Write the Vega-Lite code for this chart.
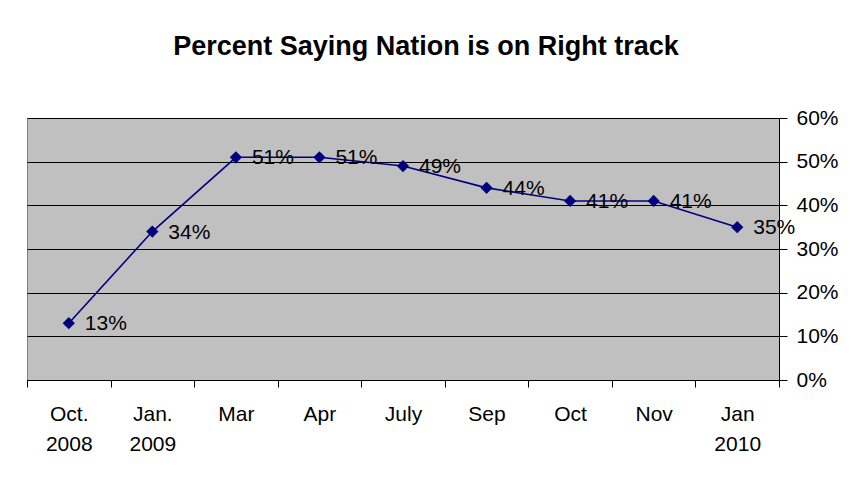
{
  "$schema": "https://vega.github.io/schema/vega-lite/v6.json",
  "width": 752,
  "height": 262,
  "autosize": {"type": "none"},
  "padding": {"left": 27, "top": 118, "right": 72, "bottom": 99},
  "background": "#ffffff",
  "config": {
    "font": "Liberation Sans",
    "view": {"fill": "#C0C0C0", "stroke": "#808080", "strokeWidth": 1}
  },
  "title": {
    "text": "Percent Saying Nation is on Right track",
    "font": "Liberation Sans",
    "fontSize": 27,
    "fontWeight": "bold",
    "color": "#000000",
    "frame": "group",
    "anchor": "middle",
    "baseline": "alphabetic",
    "offset": 25,
    "dx": 23
  },
  "data": {
    "values": [
      {"period": "Oct.|2008", "pct": 0.13},
      {"period": "Jan.|2009", "pct": 0.34},
      {"period": "Mar", "pct": 0.51},
      {"period": "Apr", "pct": 0.51},
      {"period": "July", "pct": 0.49},
      {"period": "Sep", "pct": 0.44},
      {"period": "Oct", "pct": 0.41},
      {"period": "Nov", "pct": 0.41},
      {"period": "Jan|2010", "pct": 0.35}
    ]
  },
  "encoding": {
    "x": {
      "field": "period",
      "type": "nominal",
      "sort": null,
      "scale": {"paddingInner": 0, "paddingOuter": 0},
      "axis": {
        "title": null,
        "labelAngle": 0,
        "labelExpr": "datum.value ? split(datum.value, '|') : ''",
        "labelFont": "Liberation Sans",
        "labelFontSize": 21,
        "labelColor": "#000000",
        "labelLineHeight": 30,
        "labelPadding": 16,
        "tickBand": "extent",
        "tickSize": 7,
        "tickColor": "#000000",
        "domainColor": "#000000",
        "grid": false
      }
    },
    "y": {
      "field": "pct",
      "type": "quantitative",
      "scale": {"domain": [0, 0.6], "nice": false},
      "axis": {
        "orient": "right",
        "title": null,
        "values": [0, 0.1, 0.2, 0.3, 0.4, 0.5, 0.6],
        "format": ".0%",
        "labelFont": "Liberation Sans",
        "labelFontSize": 21,
        "labelColor": "#000000",
        "labelPadding": 9,
        "tickSize": 8,
        "tickColor": "#000000",
        "domainColor": "#000000",
        "grid": true,
        "gridColor": "#000000",
        "gridWidth": 1,
        "gridOpacity": 1
      }
    }
  },
  "layer": [
    {
      "mark": {"type": "line", "color": "#000080", "strokeWidth": 1.6}
    },
    {
      "mark": {"type": "point", "shape": "diamond", "filled": true, "size": 150, "color": "#000080", "opacity": 1}
    },
    {
      "mark": {"type": "text", "align": "left", "baseline": "middle", "dx": 16, "dy": 1, "fontSize": 21, "font": "Liberation Sans", "color": "#000000"},
      "encoding": {"text": {"field": "pct", "type": "quantitative", "format": ".0%"}}
    }
  ]
}
